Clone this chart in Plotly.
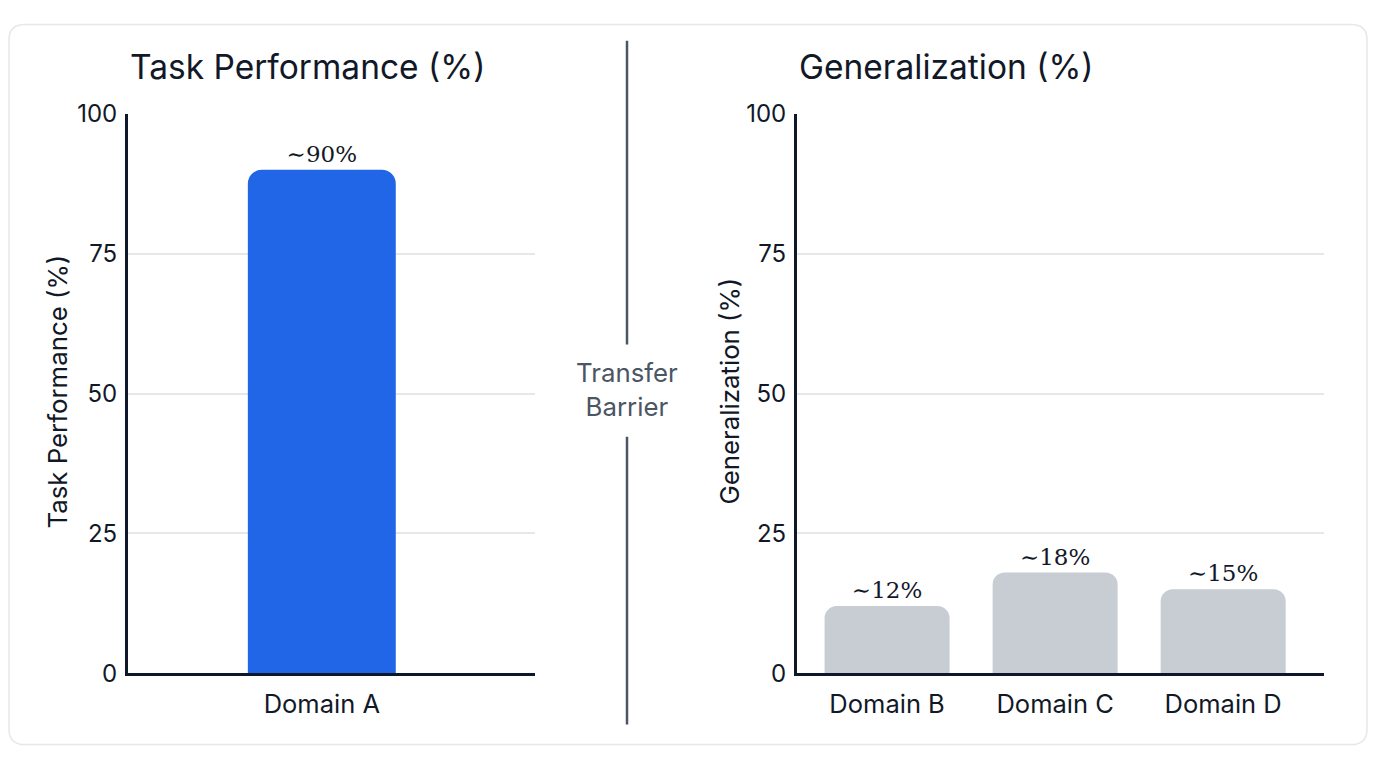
import plotly.graph_objects as go
from plotly.subplots import make_subplots

# page body keeps an 8px margin, so the figure is 1360x752 placed at (8, 8)
W, H = 1360, 752
OFF = 8
# the captured page squeezes the figure vertically; these undo it
Y_TOP, Y_SCALE = 24.4, 0.959

task_domains = ["Domain A"]
task_values = [90]
task_labels = ["∼90%"]

gen_domains = ["Domain B", "Domain C", "Domain D"]
gen_values = [12, 18, 15]
gen_labels = ["∼12%", "∼18%", "∼15%"]

y_ticks = [0, 25, 50, 75, 100]

ink = "#111827"
grid = "#e5e7eb"
axis_col = "#0f172a"
label_font = dict(family="DejaVu Serif, Liberation Serif, serif", size=23, color=ink)


def px_x(v):
    return (v - OFF) / W


def px_y(v):
    return 1 - ((v - Y_TOP) / Y_SCALE) / H


fig = make_subplots(rows=1, cols=2)

fig.add_trace(go.Bar(x=task_domains, y=task_values, text=task_labels,
                     textposition="outside", textfont=label_font, cliponaxis=False,
                     marker=dict(color="#2266e8", cornerradius=14, line_width=0),
                     width=0.458, showlegend=False), row=1, col=1)
fig.add_trace(go.Bar(x=gen_domains, y=gen_values, text=gen_labels,
                     textposition="outside", textfont=label_font, cliponaxis=False,
                     marker=dict(color="#c8cdd4", cornerradius=12, line_width=0),
                     width=0.744, showlegend=False), row=1, col=2)

yax = dict(range=[0, 100], tickvals=y_ticks, showgrid=True, gridcolor=grid, gridwidth=1.5,
           showline=True, linecolor=axis_col, linewidth=3, ticks="", zeroline=False,
           tickfont=dict(family="Inter, sans-serif", size=24, color=ink), ticklabelstandoff=3,
           domain=[px_y(673), px_y(115)])
xax = dict(showline=True, linecolor=axis_col, linewidth=3, ticks="", showgrid=False,
           ticklabelstandoff=6,
           tickfont=dict(family="Inter, sans-serif", size=25.5, color=ink))

fig.update_layout(
    width=W, height=H,
    margin=dict(l=0, r=0, t=0, b=0),
    paper_bgcolor="white", plot_bgcolor="white",
    font=dict(family="Inter, sans-serif", color=ink),
    xaxis=dict(xax, domain=[px_x(128), px_x(535)], range=[-0.6, 0.66]),
    xaxis2=dict(xax, domain=[px_x(797), px_x(1324)], range=[-0.536, 2.6]),
    yaxis=yax, yaxis2=dict(yax),
)

# panel titles and axis titles
for x0, title in [(128, "Task Performance (%)"), (797, "Generalization (%)")]:
    fig.add_annotation(x=px_x(x0), y=px_y(68), xref="paper", yref="paper",
                       text=title, showarrow=False, xanchor="left", yanchor="middle",
                       font=dict(size=33.5, color=ink))
for x0, title in [(58, "Task Performance (%)"), (730, "Generalization (%)")]:
    fig.add_annotation(x=px_x(x0), y=px_y(392), xref="paper", yref="paper",
                       text=title, showarrow=False, textangle=-90,
                       xanchor="center", yanchor="middle",
                       font=dict(size=25.8, color=ink))

# divider with label
for y0, y1 in [(42, 345), (437, 724)]:
    fig.add_shape(type="line", xref="paper", yref="paper",
                  x0=px_x(627), x1=px_x(627), y0=px_y(y0), y1=px_y(y1),
                  line=dict(color="#4b5563", width=2.5))
fig.add_annotation(x=px_x(627), y=px_y(390), xref="paper", yref="paper",
                   text="Transfer<br>Barrier", showarrow=False,
                   font=dict(size=25.8, color="#4b5563"))

# rounded frame along the figure edge
r = 16
fx0, fx1 = px_x(9), px_x(1367)
fy0, fy1 = 0.998, 0.002
ry = r / H
rx = r / W
path = (f"M {fx0 + rx},{fy0} L {fx1 - rx},{fy0} Q {fx1},{fy0} {fx1},{fy0 - ry} "
        f"L {fx1},{fy1 + ry} Q {fx1},{fy1} {fx1 - rx},{fy1} "
        f"L {fx0 + rx},{fy1} Q {fx0},{fy1} {fx0},{fy1 + ry} "
        f"L {fx0},{fy0 - ry} Q {fx0},{fy0} {fx0 + rx},{fy0} Z")
fig.add_shape(type="path", xref="paper", yref="paper", path=path,
              line=dict(color="#e5e7eb", width=1.5), layer="below")

fig.write_html("out.html")
